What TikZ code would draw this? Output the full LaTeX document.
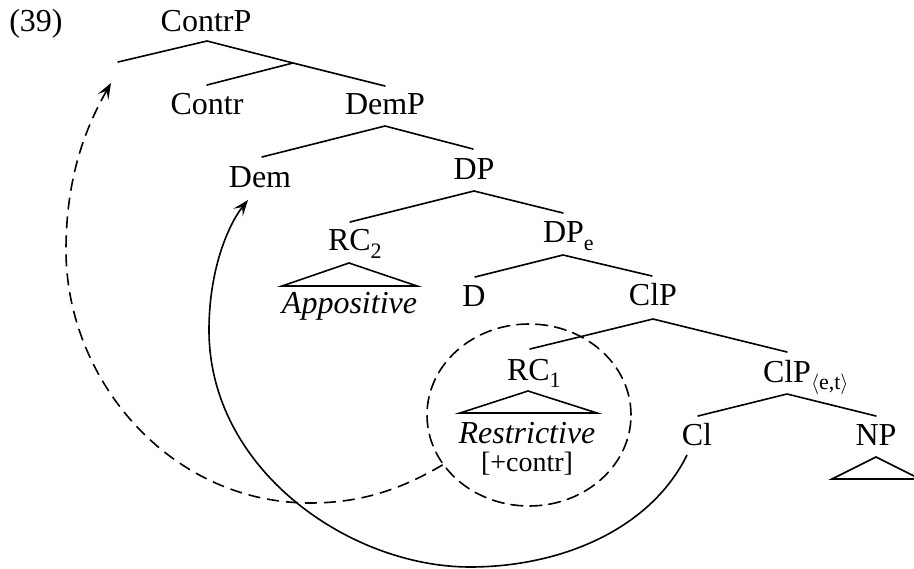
\documentclass[tikz,border=0pt]{standalone}
\usepackage{fontspec}
\setmainfont{Liberation Serif}
\usetikzlibrary{arrows.meta,shapes.geometric}
\newcommand\sbx[1]{\raisebox{-0.22em}{\fontsize{22bp}{24bp}\selectfont #1}}
\begin{document}
\begin{tikzpicture}[x=1bp,y=-1bp,
  lbl/.style={inner sep=0pt,outer sep=0pt,anchor=base,font=\fontsize{32bp}{38bp}\selectfont},
  small/.style={font=\fontsize{28bp}{32bp}\selectfont},
  br/.style={line width=1.6bp,line cap=round},
  mv/.style={line width=1.6bp,-{Stealth[length=16bp,width=12bp,inset=7bp]}},
  dsh/.style={dash pattern=on 12bp off 7bp}]
\useasboundingbox (0,0) rectangle (914,569);

% labels
\node[lbl] (ex) at (36,32) {(39)};
\node[lbl] (contrp) at (206,32) {ContrP};
\node[lbl] (contr) at (207,115) {Contr};
\node[lbl] (demp) at (385,115) {DemP};
\node[lbl] (dem) at (260,188) {Dem};
\node[lbl] (dp) at (474,180) {DP};
\node[lbl,anchor=base west] (rc2) at (328,251) {RC\sbx{2}};
\node[lbl,anchor=base west] (dpe) at (543,243) {DP\sbx{e}};
\node[lbl] (appos) at (349.5,313) {\itshape Appositive};
\node[lbl] (d) at (474,306) {D};
\node[lbl] (clp) at (653,305) {ClP};
\node[lbl,anchor=base west] (rc1) at (507,380) {RC\sbx{1}};
\node[lbl,anchor=base west] (clpet) at (763,382) {ClP\sbx{$\langle$e,t$\rangle$}};
\node[lbl] (restr) at (527,443) {\itshape Restrictive};
\node[lbl,small] (feat) at (527,471) {[+contr]};
\node[lbl] (cl) at (697,445) {Cl};
\node[lbl] (np) at (876,445) {NP};

% branch points
\coordinate (a0) at (207,41);
\coordinate (spec) at (118,62);
\coordinate (cbar) at (293,63);
\coordinate (tdemp) at (385,86);
\coordinate (tcontr) at (207,85);
\coordinate (a1) at (385,126);
\coordinate (tdem) at (262,157);
\coordinate (tdp) at (473,149);
\coordinate (a2) at (474,191);
\coordinate (trc2) at (350,222);
\coordinate (tdpe) at (563,213);
\coordinate (r2a) at (349,263);
\coordinate (r2l) at (282,286);
\coordinate (r2r) at (417,286);
\coordinate (a3) at (563,255);
\coordinate (td) at (475,277);
\coordinate (tclp) at (652,276);
\coordinate (a4) at (653,319);
\coordinate (trc1) at (530,349);
\coordinate (tclpet) at (787,352);
\coordinate (r1a) at (528,391);
\coordinate (r1l) at (460,413);
\coordinate (r1r) at (597,413);
\coordinate (a5) at (787,394);
\coordinate (tcl) at (698,416);
\coordinate (tnp) at (876,416);
\coordinate (npa) at (876,457);
\coordinate (npl) at (832,479);
\coordinate (npr) at (920,479);

% branches
\draw[br] (spec) -- (a0) -- (cbar) -- (tdemp);
\draw[br] (tcontr) -- (cbar);
\draw[br] (tdem) -- (a1) -- (tdp);
\draw[br] (trc2) -- (a2) -- (tdpe);
\draw[br] (r2l) -- (r2a) -- (r2r) -- cycle;
\draw[br] (td) -- (a3) -- (tclp);
\draw[br] (trc1) -- (a4) -- (tclpet);
\draw[br] (r1l) -- (r1a) -- (r1r) -- cycle;
\draw[br] (tcl) -- (a5) -- (tnp);
\draw[br] (npl) -- (npa) -- (npr) -- cycle;

% dashed circle
\node[draw,br,dsh,ellipse,minimum width=204bp,minimum height=182bp,inner sep=0pt] (circ) at (529,415) {};

% movement arrows
\coordinate (tipA) at (111,83);
\coordinate (tipB) at (248,200);
\coordinate (clstart) at (687,455);
\draw[mv,dsh] (circ.210) .. controls (400,490) and (360,503) .. (310,503)
  .. controls (170,503) and (66,380) .. (66,250)
  .. controls (66,170) and (90,120) .. (tipA);
\draw[mv] (clstart) .. controls (650,530) and (560,567) .. (470,567)
  .. controls (350,567) and (209,470) .. (209,330)
  .. controls (209,270) and (228,225) .. (tipB);
\end{tikzpicture}
\end{document}
